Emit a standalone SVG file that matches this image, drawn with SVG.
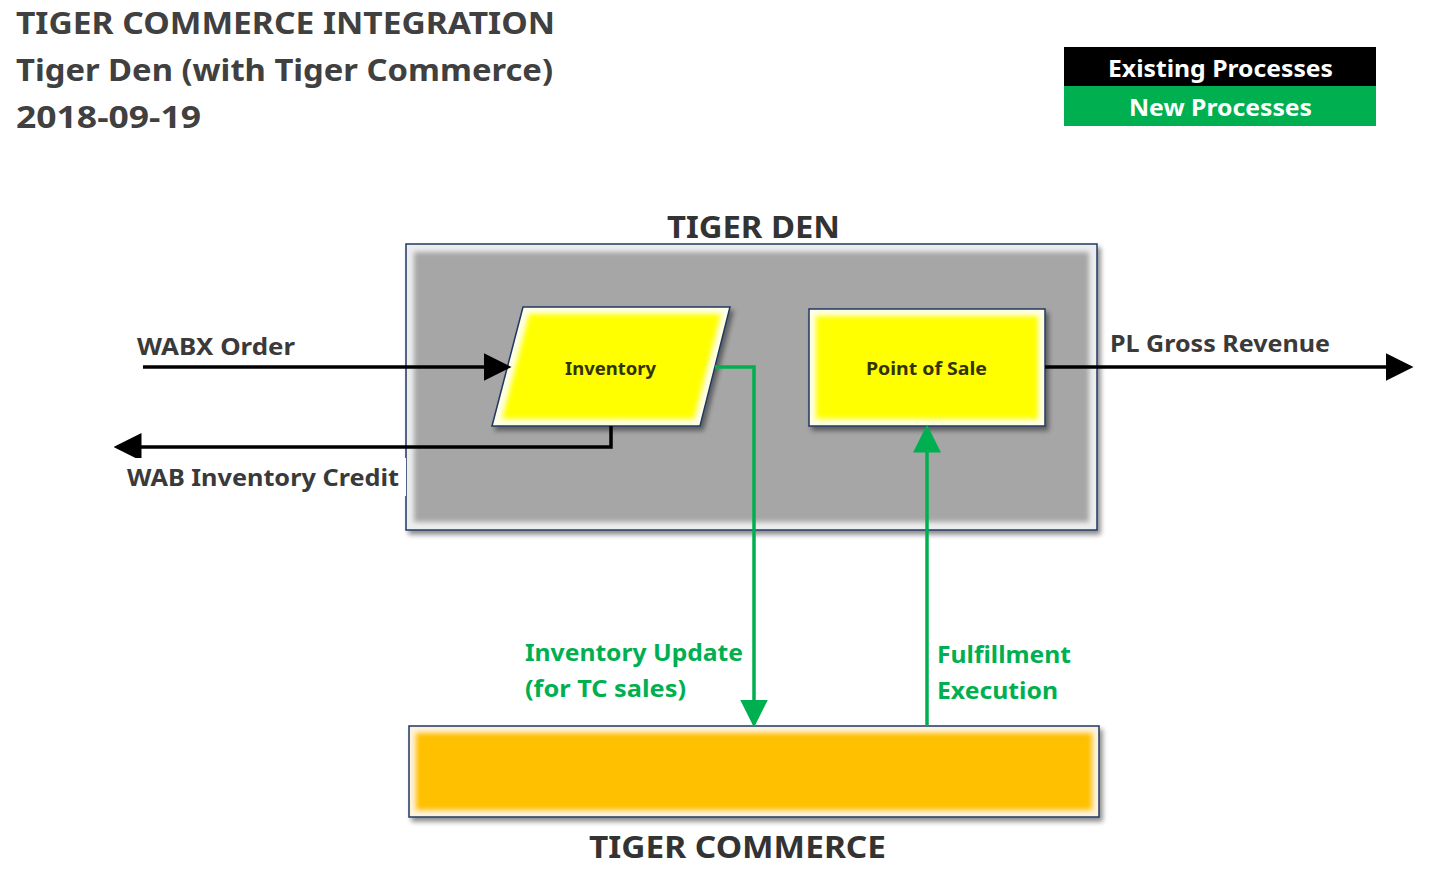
<svg xmlns="http://www.w3.org/2000/svg" width="1441" height="875" viewBox="0 0 1441 875">
<style>
text{font-family:"Noto Sans","Open Sans","Liberation Sans",sans-serif;font-weight:bold}
.title{font-size:30px;fill:#404040}
.lbl{font-size:24px;fill:#3a3a3a}
.glbl{font-size:24px;fill:#00B050}
.node{font-size:18px;fill:#333300}
.hdr{font-size:31px;fill:#333333}
.blk{stroke:#000;stroke-width:3.5;fill:none}
.grn{stroke:#00B050;stroke-width:3.5;fill:none}
.frame{stroke:#1F3864;stroke-width:1.5}
</style>
<defs>
<filter id="soft" x="-5%" y="-5%" width="110%" height="110%"><feGaussianBlur stdDeviation="2.5"/></filter>
<filter id="shadow" x="-5%" y="-5%" width="115%" height="120%"><feGaussianBlur in="SourceAlpha" stdDeviation="2.5"/><feOffset dx="3" dy="4"/><feComponentTransfer><feFuncA type="linear" slope="0.45"/></feComponentTransfer><feMerge><feMergeNode/><feMergeNode in="SourceGraphic"/></feMerge></filter>
<marker id="ab" markerWidth="8" markerHeight="8" refX="7" refY="4" orient="auto" markerUnits="strokeWidth"><path d="M0,0 L8,4 L0,8 Z" fill="#000"/></marker>
<marker id="ag" markerWidth="8" markerHeight="8" refX="7" refY="4" orient="auto" markerUnits="strokeWidth"><path d="M0,0 L8,4 L0,8 Z" fill="#00B050"/></marker>
</defs>
<rect width="1441" height="875" fill="#fff"/>
<g id="title">
<text class="title" x="16" y="34" textLength="539" lengthAdjust="spacingAndGlyphs">TIGER COMMERCE INTEGRATION</text>
<text class="title" x="16" y="81" textLength="537" lengthAdjust="spacingAndGlyphs">Tiger Den (with Tiger Commerce)</text>
<text class="title" x="16" y="128" textLength="185" lengthAdjust="spacingAndGlyphs">2018-09-19</text>
</g>
<g id="legend">
<rect x="1064" y="47" width="312" height="39" fill="#000"/>
<rect x="1064" y="86" width="312" height="40" fill="#00B050"/>
<text x="1108" y="77" textLength="225" lengthAdjust="spacingAndGlyphs" style="font-size:24px;fill:#fff">Existing Processes</text>
<text x="1129" y="116" textLength="183" lengthAdjust="spacingAndGlyphs" style="font-size:24px;fill:#fff">New Processes</text>
</g>
<g id="tiger-den">
<g filter="url(#shadow)">
<rect x="406" y="244" width="691" height="286" fill="#EDEDED" class="frame"/>
</g>
<rect x="414" y="252" width="675" height="270" fill="#A6A6A6" filter="url(#soft)"/>
<text class="hdr" x="667" y="238" textLength="173" lengthAdjust="spacingAndGlyphs">TIGER DEN</text>
</g>
<g id="inventory">
<g filter="url(#shadow)">
<polygon points="523,307 730,307 700,426 492,426" fill="#FFFFE6" class="frame"/>
</g>
<polygon points="529,314 721,314 694,419 502,419" fill="#FFFF00" filter="url(#soft)"/>
<text class="node" x="565" y="375" textLength="91" lengthAdjust="spacingAndGlyphs">Inventory</text>
</g>
<g id="point-of-sale">
<g filter="url(#shadow)">
<rect x="809" y="309" width="236" height="117" fill="#FFFFE6" class="frame"/>
</g>
<rect x="816" y="316" width="222" height="103" fill="#FFFF00" filter="url(#soft)"/>
<text class="node" x="866" y="375" textLength="121" lengthAdjust="spacingAndGlyphs">Point of Sale</text>
</g>
<g id="tiger-commerce">
<g filter="url(#shadow)">
<rect x="409" y="726" width="690" height="91" fill="#FFF2DC" class="frame"/>
</g>
<rect x="416" y="733" width="676" height="77" fill="#FFC000" filter="url(#soft)"/>
<text class="hdr" x="589" y="858" textLength="297" lengthAdjust="spacingAndGlyphs">TIGER COMMERCE</text>
</g>
<g id="connectors">
<line class="blk" x1="143" y1="367" x2="508" y2="367" marker-end="url(#ab)"/>
<polyline class="blk" points="611,426 611,447 117,447" marker-end="url(#ab)"/>
<line class="blk" x1="1045" y1="367" x2="1410" y2="367" marker-end="url(#ab)"/>
<polyline class="grn" points="715,367 754,367 754,724" marker-end="url(#ag)"/>
<line class="grn" x1="927" y1="726" x2="927" y2="428" marker-end="url(#ag)"/>
</g>
<g id="labels">
<text class="lbl" x="137" y="355" textLength="158" lengthAdjust="spacingAndGlyphs">WABX Order</text>
<rect x="120" y="458" width="286" height="38" fill="#fff"/>
<text class="lbl" x="127" y="486" textLength="272" lengthAdjust="spacingAndGlyphs">WAB Inventory Credit</text>
<text class="lbl" x="1110" y="352" textLength="220" lengthAdjust="spacingAndGlyphs">PL Gross Revenue</text>
<text class="glbl" x="525" y="661" textLength="218" lengthAdjust="spacingAndGlyphs">Inventory Update</text>
<text class="glbl" x="525" y="697" textLength="161" lengthAdjust="spacingAndGlyphs">(for TC sales)</text>
<text class="glbl" x="937" y="663" textLength="134" lengthAdjust="spacingAndGlyphs">Fulfillment</text>
<text class="glbl" x="937" y="699" textLength="121" lengthAdjust="spacingAndGlyphs">Execution</text>
</g>
</svg>
